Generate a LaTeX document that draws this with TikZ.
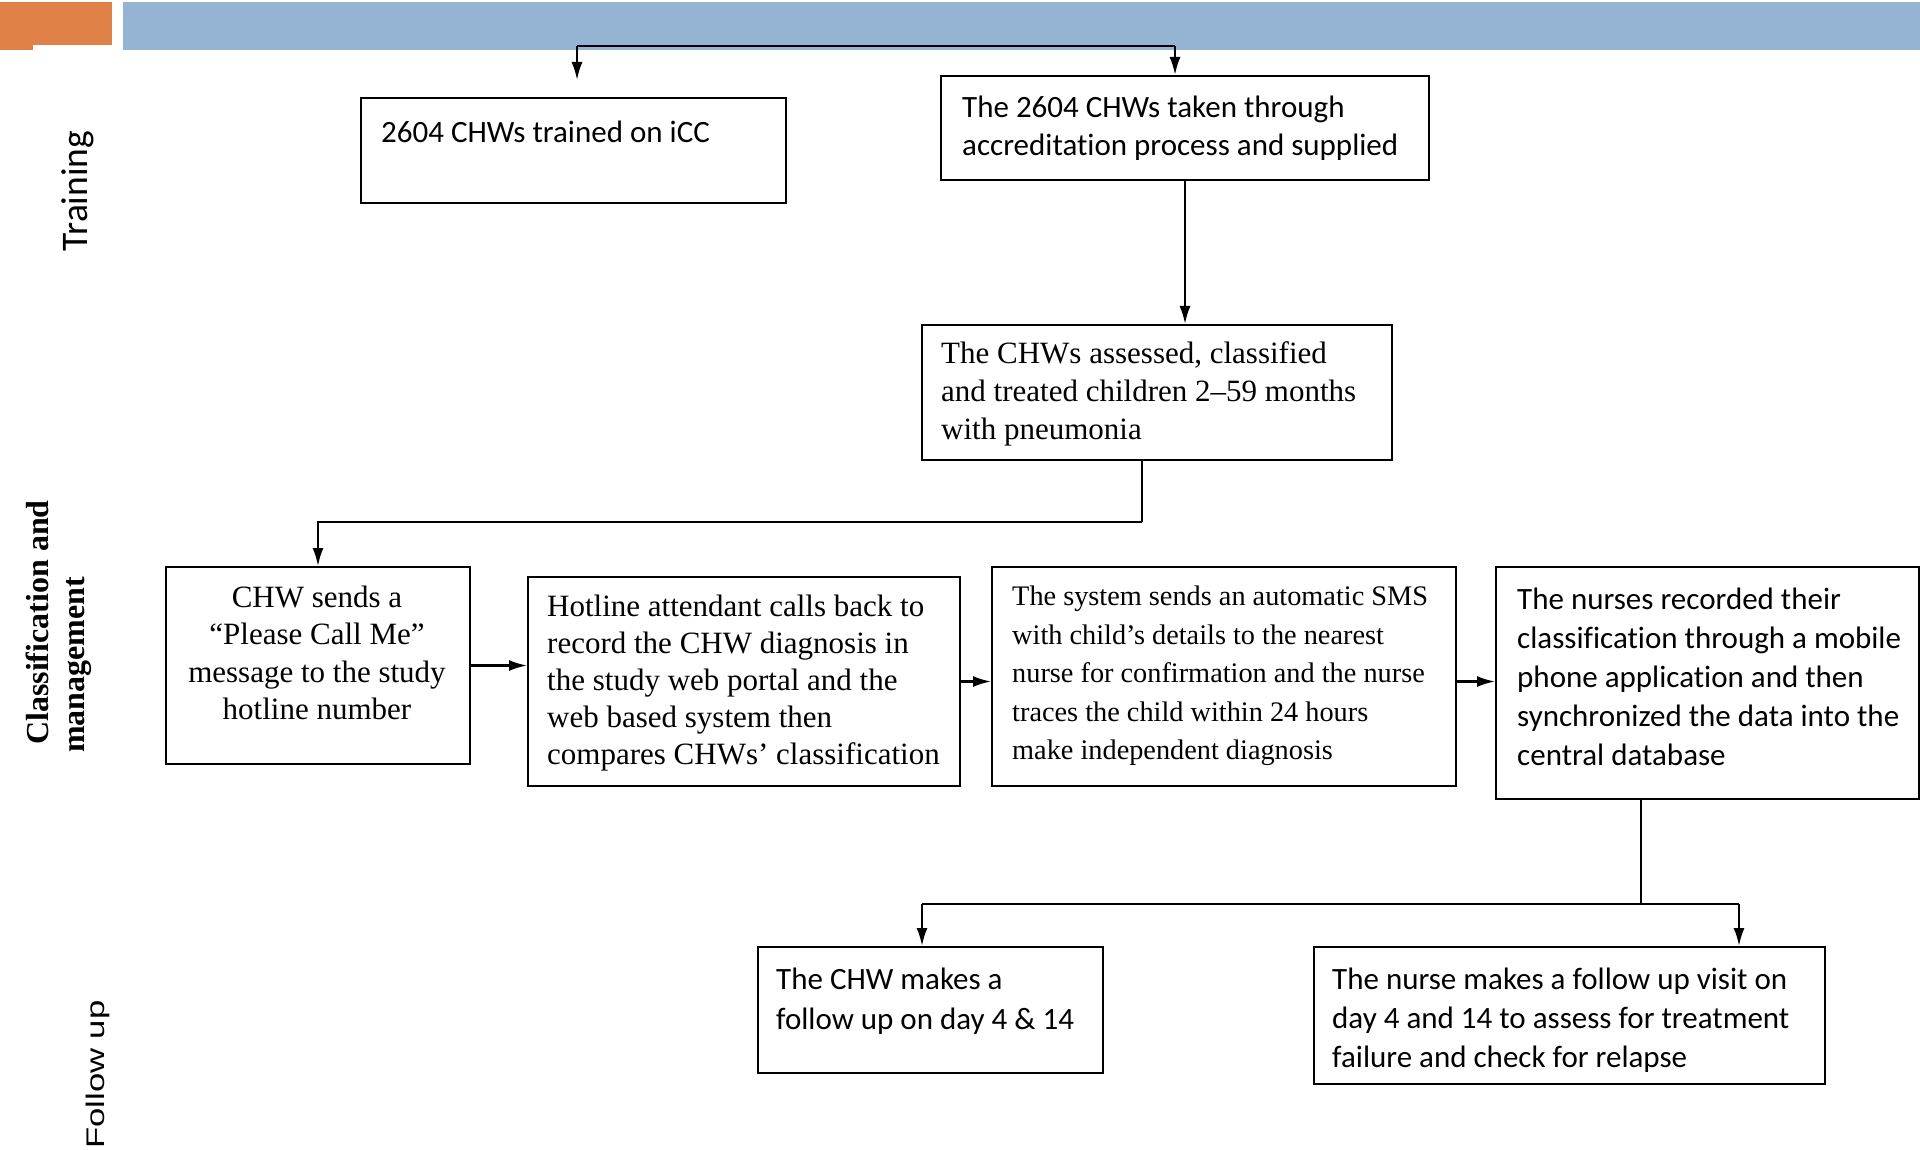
\documentclass[tikz,border=0pt]{standalone}
\usepackage{fontspec}
\setmainfont{Liberation Serif}
\newfontfamily\calfont[Ligatures=NoCommon]{Carlito}
\newfontfamily\arfont{Liberation Sans}
\usetikzlibrary{arrows.meta}
\definecolor{hdrblue}{RGB}{149,180,212}
\definecolor{hdrorange}{RGB}{224,130,72}
\begin{document}
\begin{tikzpicture}[x=1pt,y=-1pt,
  box/.style={draw, line width=2pt, inner sep=0pt, anchor=north west},
  txt/.style={inner sep=0pt, align=left, anchor=west},
  calt/.style={font=\calfont\fontsize{31}{#1}\selectfont},
  timt/.style={font=\fontsize{31}{#1}\selectfont},
  conn/.style={line width=2.2pt},
  thinconn/.style={line width=1.3pt},
  arr/.style={line width=2.2pt, -{Latex[length=18pt,width=11pt]}},
  lbl/.style={inner sep=0pt, rotate=90}
]
\useasboundingbox (0,0) rectangle (1920,1150);
% header
\fill[hdrorange] (0,2) rectangle (112,45);
\fill[hdrorange] (0,44) rectangle (33,50);
\fill[hdrblue] (123,2) rectangle (1920,50);

% side labels
\node[lbl, font=\calfont\fontsize{37.5}{40}\selectfont] (ltrain) at (78,191) {Training};
\node[lbl, anchor=base west, font=\bfseries\fontsize{32}{36}\selectfont] (lclassa) at (48,745) {Classification and};
\node[lbl, anchor=base west, font=\bfseries\fontsize{32}{36}\selectfont] (lclassb) at (84,753) {management};
\node[lbl, anchor=north west, font=\arfont\fontsize{25.5}{30}\selectfont] (lfollow) at (86,1149) {\scalebox{1.36}[1]{Follow up}};

% boxes
\node[box, minimum width=425pt, minimum height=105pt] (b1) at (360,97) {};
\node[box, minimum width=488pt, minimum height=104pt] (b2) at (940,75) {};
\node[box, minimum width=470pt, minimum height=135pt] (b3) at (921,324) {};
\node[box, minimum width=304pt, minimum height=197pt] (b4) at (165,566) {};
\node[box, minimum width=432pt, minimum height=209pt] (b5) at (527,576) {};
\node[box, minimum width=464pt, minimum height=219pt] (b6) at (991,566) {};
\node[box, minimum width=423pt, minimum height=232pt] (b7) at (1495,566) {};
\node[box, minimum width=345pt, minimum height=126pt] (b8) at (757,946) {};
\node[box, minimum width=511pt, minimum height=137pt] (b9) at (1313,946) {};

% texts
\node[txt, calt=38] (t1) at (381,132) {2604 CHWs trained on iCC};
\node[txt, calt=38] (t2) at (962,128) {The 2604 CHWs taken through\\accreditation process and supplied};
\node[txt, timt=38] (t3) at (941,394) {The CHWs assessed, classified\\and treated children 2–59 months\\with pneumonia};
\node[inner sep=0pt, align=center, timt=37.5] (t4) at (317,653) {CHW sends a\\“Please Call Me”\\message to the study\\hotline number};
\node[txt, timt=37] (t5) at (547,683) {Hotline attendant calls back to\\record the CHW diagnosis in\\the study web portal and the\\web based system then\\compares CHWs’ classification};
\node[txt, font=\fontsize{28.3}{38.5}\selectfont] (t6) at (1012,676) {The system sends an automatic SMS\\with child’s details to the nearest\\nurse for confirmation and the nurse\\traces the child within 24 hours\\make independent diagnosis};
\node[txt, calt=39] (t7) at (1517,677) {The nurses recorded their\\classification through a mobile\\phone application and then\\synchronized the data into the\\central database};
\node[txt, calt=40] (t8) at (776,1001) {The CHW makes a\\follow up on day 4 \& 14};
\node[txt, calt=39] (t9) at (1332,1020) {The nurse makes a follow up visit on\\day 4 and 14 to assess for treatment\\failure and check for relapse};

% connectors
\coordinate (tl) at (577,46);
\coordinate (tr) at (1175,46);
\coordinate (tlend) at (577,80);
\draw[conn] (tl) -- (tr);
\draw[arr] (tl) -- (tlend);
\draw[arr] (tr) -- (tr |- b2.north);

\draw[arr] (b2.south) -- (b2.south |- b3.north);

\coordinate (j1) at (1142,522);
\draw[thinconn] (b3.south -| j1) -- (j1);
\draw[arr] (j1) -| (b4.north);

\draw[arr] (b4.east) -- (b4.east -| b5.west);
\draw[arr] (b5.east) -- (b5.east -| b6.west);
\draw[arr] (b6.east |- b5.east) -- (b5.east -| b7.west);

\coordinate (j4) at (1641,904);
\coordinate (j2) at (922,904);
\coordinate (j3) at (1739,904);
\draw[thinconn] (b7.south -| j4) -- (j4);
\draw[conn] (j2) -- (j3);
\draw[arr] (j2) -- (j2 |- b8.north);
\draw[arr] (j3) -- (j3 |- b9.north);
\end{tikzpicture}
\end{document}
